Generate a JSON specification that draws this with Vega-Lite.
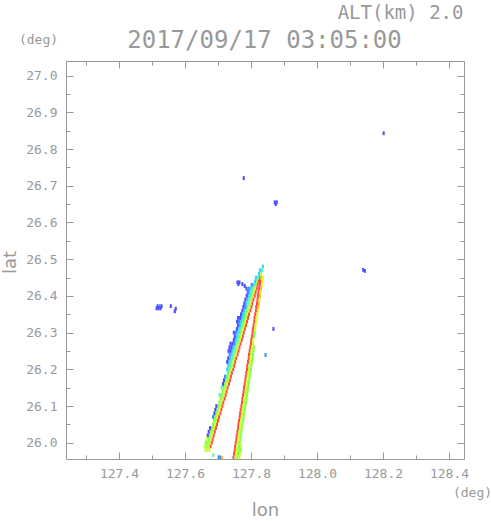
{
"$schema": "https://vega.github.io/schema/vega-lite/v6.json",
"width": 398, "height": 398,
"autosize": "none",
"padding": {"left": 66, "top": 61, "right": 27, "bottom": 62},
"background": "white",
"config": {
 "view": {"stroke": "#999", "strokeWidth": 1},
 "axis": {"domain": false, "grid": false, "tickColor": "#999", "tickWidth": 1, "labelColor": "#999", "titleColor": "#999", "labelFont": "DejaVu Sans Mono", "labelFontSize": 13, "titleFontWeight": "normal"}
},
"data": {"values": [
{"lon":127.674,"lat":25.98,"z":6},{"lon":127.668,"lat":25.98,"z":6},{"lon":127.662,"lat":25.98,"z":6},
{"lon":127.677,"lat":25.99,"z":8},{"lon":127.671,"lat":25.99,"z":6},{"lon":127.665,"lat":25.99,"z":5},{"lon":127.659,"lat":25.99,"z":6},
{"lon":127.681,"lat":26.00,"z":8},{"lon":127.675,"lat":26.00,"z":6},{"lon":127.669,"lat":26.00,"z":5},{"lon":127.663,"lat":26.00,"z":5},
{"lon":127.684,"lat":26.01,"z":8},{"lon":127.678,"lat":26.01,"z":6},{"lon":127.672,"lat":26.01,"z":5},{"lon":127.666,"lat":26.01,"z":6},
{"lon":127.687,"lat":26.02,"z":8},{"lon":127.681,"lat":26.02,"z":6},{"lon":127.675,"lat":26.02,"z":5},{"lon":127.669,"lat":26.02,"z":1},
{"lon":127.690,"lat":26.03,"z":8},{"lon":127.684,"lat":26.03,"z":6},{"lon":127.678,"lat":26.03,"z":5},{"lon":127.672,"lat":26.03,"z":1},
{"lon":127.694,"lat":26.04,"z":8},{"lon":127.688,"lat":26.04,"z":6},{"lon":127.682,"lat":26.04,"z":5},{"lon":127.676,"lat":26.04,"z":1},
{"lon":127.697,"lat":26.05,"z":8},{"lon":127.691,"lat":26.05,"z":6},{"lon":127.685,"lat":26.05,"z":5},
{"lon":127.700,"lat":26.06,"z":8},{"lon":127.694,"lat":26.06,"z":6},{"lon":127.688,"lat":26.06,"z":5},
{"lon":127.703,"lat":26.07,"z":8},{"lon":127.697,"lat":26.07,"z":6},{"lon":127.691,"lat":26.07,"z":5},{"lon":127.685,"lat":26.07,"z":2},
{"lon":127.707,"lat":26.08,"z":8},{"lon":127.701,"lat":26.08,"z":6},{"lon":127.695,"lat":26.08,"z":5},{"lon":127.689,"lat":26.08,"z":1},
{"lon":127.710,"lat":26.09,"z":8},{"lon":127.704,"lat":26.09,"z":6},{"lon":127.698,"lat":26.09,"z":5},{"lon":127.692,"lat":26.09,"z":1},
{"lon":127.713,"lat":26.10,"z":8},{"lon":127.707,"lat":26.10,"z":6},{"lon":127.701,"lat":26.10,"z":5},{"lon":127.695,"lat":26.10,"z":1},
{"lon":127.716,"lat":26.11,"z":8},{"lon":127.710,"lat":26.11,"z":6},{"lon":127.704,"lat":26.11,"z":5},
{"lon":127.720,"lat":26.12,"z":8},{"lon":127.714,"lat":26.12,"z":6},{"lon":127.708,"lat":26.12,"z":5},
{"lon":127.723,"lat":26.13,"z":8},{"lon":127.717,"lat":26.13,"z":6},{"lon":127.711,"lat":26.13,"z":5},{"lon":127.705,"lat":26.13,"z":4},
{"lon":127.726,"lat":26.14,"z":8},{"lon":127.720,"lat":26.14,"z":6},{"lon":127.714,"lat":26.14,"z":5},
{"lon":127.729,"lat":26.15,"z":8},{"lon":127.723,"lat":26.15,"z":6},{"lon":127.717,"lat":26.15,"z":5},{"lon":127.711,"lat":26.15,"z":4},
{"lon":127.733,"lat":26.16,"z":8},{"lon":127.727,"lat":26.16,"z":6},{"lon":127.721,"lat":26.16,"z":5},{"lon":127.715,"lat":26.16,"z":1},
{"lon":127.736,"lat":26.17,"z":8},{"lon":127.730,"lat":26.17,"z":6},{"lon":127.724,"lat":26.17,"z":5},{"lon":127.718,"lat":26.17,"z":1},
{"lon":127.739,"lat":26.18,"z":8},{"lon":127.733,"lat":26.18,"z":6},{"lon":127.727,"lat":26.18,"z":4},{"lon":127.721,"lat":26.18,"z":2},
{"lon":127.742,"lat":26.19,"z":8},{"lon":127.736,"lat":26.19,"z":6},{"lon":127.730,"lat":26.19,"z":4},
{"lon":127.746,"lat":26.20,"z":8},{"lon":127.740,"lat":26.20,"z":6},{"lon":127.734,"lat":26.20,"z":4},{"lon":127.728,"lat":26.20,"z":3},
{"lon":127.749,"lat":26.21,"z":8},{"lon":127.743,"lat":26.21,"z":6},{"lon":127.737,"lat":26.21,"z":4},{"lon":127.731,"lat":26.21,"z":3},
{"lon":127.752,"lat":26.22,"z":8},{"lon":127.746,"lat":26.22,"z":6},{"lon":127.740,"lat":26.22,"z":4},{"lon":127.734,"lat":26.22,"z":3},{"lon":127.728,"lat":26.22,"z":1},
{"lon":127.755,"lat":26.23,"z":8},{"lon":127.749,"lat":26.23,"z":6},{"lon":127.743,"lat":26.23,"z":4},{"lon":127.737,"lat":26.23,"z":3},{"lon":127.731,"lat":26.23,"z":1},
{"lon":127.759,"lat":26.24,"z":8},{"lon":127.753,"lat":26.24,"z":6},{"lon":127.747,"lat":26.24,"z":4},{"lon":127.741,"lat":26.24,"z":3},{"lon":127.735,"lat":26.24,"z":2},
{"lon":127.762,"lat":26.25,"z":8},{"lon":127.756,"lat":26.25,"z":6},{"lon":127.750,"lat":26.25,"z":4},{"lon":127.744,"lat":26.25,"z":3},{"lon":127.738,"lat":26.25,"z":1},{"lon":127.732,"lat":26.25,"z":1},
{"lon":127.765,"lat":26.26,"z":8},{"lon":127.759,"lat":26.26,"z":6},{"lon":127.753,"lat":26.26,"z":4},{"lon":127.747,"lat":26.26,"z":3},{"lon":127.741,"lat":26.26,"z":1},{"lon":127.735,"lat":26.26,"z":1},
{"lon":127.768,"lat":26.27,"z":8},{"lon":127.762,"lat":26.27,"z":6},{"lon":127.756,"lat":26.27,"z":4},{"lon":127.750,"lat":26.27,"z":2},{"lon":127.744,"lat":26.27,"z":1},{"lon":127.738,"lat":26.27,"z":1},
{"lon":127.772,"lat":26.28,"z":8},{"lon":127.766,"lat":26.28,"z":6},{"lon":127.760,"lat":26.28,"z":4},{"lon":127.754,"lat":26.28,"z":3},{"lon":127.748,"lat":26.28,"z":1},
{"lon":127.775,"lat":26.29,"z":8},{"lon":127.769,"lat":26.29,"z":6},{"lon":127.763,"lat":26.29,"z":4},{"lon":127.757,"lat":26.29,"z":3},{"lon":127.751,"lat":26.29,"z":1},
{"lon":127.778,"lat":26.30,"z":8},{"lon":127.772,"lat":26.30,"z":6},{"lon":127.766,"lat":26.30,"z":4},{"lon":127.760,"lat":26.30,"z":3},{"lon":127.754,"lat":26.30,"z":2},{"lon":127.748,"lat":26.30,"z":1},
{"lon":127.781,"lat":26.31,"z":8},{"lon":127.775,"lat":26.31,"z":6},{"lon":127.769,"lat":26.31,"z":4},{"lon":127.763,"lat":26.31,"z":3},{"lon":127.757,"lat":26.31,"z":1},
{"lon":127.785,"lat":26.32,"z":8},{"lon":127.779,"lat":26.32,"z":6},{"lon":127.773,"lat":26.32,"z":4},{"lon":127.767,"lat":26.32,"z":3},{"lon":127.761,"lat":26.32,"z":1},
{"lon":127.788,"lat":26.33,"z":8},{"lon":127.782,"lat":26.33,"z":6},{"lon":127.776,"lat":26.33,"z":4},{"lon":127.770,"lat":26.33,"z":3},{"lon":127.764,"lat":26.33,"z":2},{"lon":127.758,"lat":26.33,"z":1},
{"lon":127.791,"lat":26.34,"z":8},{"lon":127.785,"lat":26.34,"z":6},{"lon":127.779,"lat":26.34,"z":4},{"lon":127.773,"lat":26.34,"z":3},{"lon":127.767,"lat":26.34,"z":1},{"lon":127.761,"lat":26.34,"z":1},
{"lon":127.794,"lat":26.35,"z":8},{"lon":127.788,"lat":26.35,"z":6},{"lon":127.782,"lat":26.35,"z":4},{"lon":127.776,"lat":26.35,"z":3},{"lon":127.770,"lat":26.35,"z":1},
{"lon":127.798,"lat":26.36,"z":8},{"lon":127.792,"lat":26.36,"z":6},{"lon":127.786,"lat":26.36,"z":4},{"lon":127.780,"lat":26.36,"z":3},{"lon":127.774,"lat":26.36,"z":1},
{"lon":127.801,"lat":26.37,"z":8},{"lon":127.795,"lat":26.37,"z":6},{"lon":127.789,"lat":26.37,"z":4},{"lon":127.783,"lat":26.37,"z":2},{"lon":127.777,"lat":26.37,"z":1},
{"lon":127.804,"lat":26.38,"z":8},{"lon":127.798,"lat":26.38,"z":6},{"lon":127.792,"lat":26.38,"z":4},{"lon":127.786,"lat":26.38,"z":3},{"lon":127.780,"lat":26.38,"z":1},
{"lon":127.807,"lat":26.39,"z":8},{"lon":127.801,"lat":26.39,"z":6},{"lon":127.795,"lat":26.39,"z":4},{"lon":127.789,"lat":26.39,"z":3},{"lon":127.783,"lat":26.39,"z":1},
{"lon":127.811,"lat":26.40,"z":8},{"lon":127.805,"lat":26.40,"z":6},{"lon":127.799,"lat":26.40,"z":4},{"lon":127.793,"lat":26.40,"z":3},{"lon":127.787,"lat":26.40,"z":1},
{"lon":127.814,"lat":26.41,"z":8},{"lon":127.808,"lat":26.41,"z":6},{"lon":127.802,"lat":26.41,"z":4},{"lon":127.796,"lat":26.41,"z":3},{"lon":127.790,"lat":26.41,"z":1},
{"lon":127.817,"lat":26.42,"z":8},{"lon":127.811,"lat":26.42,"z":6},{"lon":127.805,"lat":26.42,"z":4},{"lon":127.799,"lat":26.42,"z":3},{"lon":127.793,"lat":26.42,"z":2},
{"lon":127.820,"lat":26.43,"z":8},{"lon":127.814,"lat":26.43,"z":5},{"lon":127.808,"lat":26.43,"z":3},{"lon":127.802,"lat":26.43,"z":2},
{"lon":127.824,"lat":26.44,"z":8},{"lon":127.818,"lat":26.44,"z":5},{"lon":127.812,"lat":26.44,"z":3},
{"lon":127.827,"lat":26.45,"z":8},{"lon":127.821,"lat":26.45,"z":4},{"lon":127.815,"lat":26.45,"z":3},
{"lon":127.830,"lat":26.46,"z":6},{"lon":127.824,"lat":26.46,"z":3},
{"lon":127.833,"lat":26.47,"z":4},{"lon":127.827,"lat":26.47,"z":3},
{"lon":127.836,"lat":26.48,"z":3},
{"lon":127.747,"lat":25.96,"z":8},{"lon":127.753,"lat":25.96,"z":6},{"lon":127.759,"lat":25.96,"z":5},{"lon":127.765,"lat":25.96,"z":6},
{"lon":127.749,"lat":25.97,"z":8},{"lon":127.755,"lat":25.97,"z":6},{"lon":127.761,"lat":25.97,"z":5},{"lon":127.767,"lat":25.97,"z":6},
{"lon":127.751,"lat":25.98,"z":8},{"lon":127.757,"lat":25.98,"z":6},{"lon":127.763,"lat":25.98,"z":5},{"lon":127.769,"lat":25.98,"z":5},
{"lon":127.752,"lat":25.99,"z":8},{"lon":127.758,"lat":25.99,"z":6},{"lon":127.764,"lat":25.99,"z":5},{"lon":127.770,"lat":25.99,"z":6},
{"lon":127.754,"lat":26.00,"z":8},{"lon":127.760,"lat":26.00,"z":6},{"lon":127.766,"lat":26.00,"z":5},
{"lon":127.756,"lat":26.01,"z":8},{"lon":127.762,"lat":26.01,"z":6},{"lon":127.768,"lat":26.01,"z":5},
{"lon":127.757,"lat":26.02,"z":8},{"lon":127.763,"lat":26.02,"z":6},{"lon":127.769,"lat":26.02,"z":5},
{"lon":127.759,"lat":26.03,"z":8},{"lon":127.765,"lat":26.03,"z":6},{"lon":127.771,"lat":26.03,"z":5},
{"lon":127.761,"lat":26.04,"z":8},{"lon":127.767,"lat":26.04,"z":6},{"lon":127.773,"lat":26.04,"z":5},
{"lon":127.762,"lat":26.05,"z":8},{"lon":127.768,"lat":26.05,"z":6},{"lon":127.774,"lat":26.05,"z":5},
{"lon":127.764,"lat":26.06,"z":8},{"lon":127.770,"lat":26.06,"z":6},{"lon":127.776,"lat":26.06,"z":5},
{"lon":127.766,"lat":26.07,"z":8},{"lon":127.772,"lat":26.07,"z":6},{"lon":127.778,"lat":26.07,"z":5},
{"lon":127.767,"lat":26.08,"z":8},{"lon":127.773,"lat":26.08,"z":6},{"lon":127.779,"lat":26.08,"z":5},
{"lon":127.769,"lat":26.09,"z":8},{"lon":127.775,"lat":26.09,"z":6},{"lon":127.781,"lat":26.09,"z":5},
{"lon":127.771,"lat":26.10,"z":8},{"lon":127.777,"lat":26.10,"z":6},{"lon":127.783,"lat":26.10,"z":5},
{"lon":127.773,"lat":26.11,"z":8},{"lon":127.779,"lat":26.11,"z":6},{"lon":127.785,"lat":26.11,"z":5},
{"lon":127.774,"lat":26.12,"z":8},{"lon":127.780,"lat":26.12,"z":6},{"lon":127.786,"lat":26.12,"z":5},
{"lon":127.776,"lat":26.13,"z":8},{"lon":127.782,"lat":26.13,"z":6},{"lon":127.788,"lat":26.13,"z":5},
{"lon":127.778,"lat":26.14,"z":8},{"lon":127.784,"lat":26.14,"z":6},{"lon":127.790,"lat":26.14,"z":5},
{"lon":127.779,"lat":26.15,"z":8},{"lon":127.785,"lat":26.15,"z":6},{"lon":127.791,"lat":26.15,"z":5},
{"lon":127.781,"lat":26.16,"z":8},{"lon":127.787,"lat":26.16,"z":6},{"lon":127.793,"lat":26.16,"z":5},
{"lon":127.783,"lat":26.17,"z":8},{"lon":127.789,"lat":26.17,"z":6},{"lon":127.795,"lat":26.17,"z":5},
{"lon":127.784,"lat":26.18,"z":8},{"lon":127.790,"lat":26.18,"z":6},{"lon":127.796,"lat":26.18,"z":5},
{"lon":127.786,"lat":26.19,"z":8},{"lon":127.792,"lat":26.19,"z":6},{"lon":127.798,"lat":26.19,"z":5},
{"lon":127.788,"lat":26.20,"z":8},{"lon":127.794,"lat":26.20,"z":6},{"lon":127.800,"lat":26.20,"z":5},
{"lon":127.789,"lat":26.21,"z":8},{"lon":127.795,"lat":26.21,"z":6},{"lon":127.801,"lat":26.21,"z":5},
{"lon":127.791,"lat":26.22,"z":8},{"lon":127.797,"lat":26.22,"z":6},{"lon":127.803,"lat":26.22,"z":5},
{"lon":127.793,"lat":26.23,"z":8},{"lon":127.799,"lat":26.23,"z":6},{"lon":127.805,"lat":26.23,"z":5},
{"lon":127.794,"lat":26.24,"z":8},{"lon":127.800,"lat":26.24,"z":6},{"lon":127.806,"lat":26.24,"z":5},
{"lon":127.796,"lat":26.25,"z":8},{"lon":127.802,"lat":26.25,"z":6},{"lon":127.808,"lat":26.25,"z":5},
{"lon":127.798,"lat":26.26,"z":8},{"lon":127.804,"lat":26.26,"z":6},{"lon":127.810,"lat":26.26,"z":5},
{"lon":127.800,"lat":26.27,"z":8},{"lon":127.806,"lat":26.27,"z":6},
{"lon":127.801,"lat":26.28,"z":8},{"lon":127.807,"lat":26.28,"z":6},
{"lon":127.803,"lat":26.29,"z":8},{"lon":127.809,"lat":26.29,"z":5},
{"lon":127.805,"lat":26.30,"z":8},{"lon":127.811,"lat":26.30,"z":5},
{"lon":127.806,"lat":26.31,"z":8},{"lon":127.812,"lat":26.31,"z":6},
{"lon":127.808,"lat":26.32,"z":8},{"lon":127.814,"lat":26.32,"z":6},
{"lon":127.810,"lat":26.33,"z":8},{"lon":127.816,"lat":26.33,"z":6},
{"lon":127.811,"lat":26.34,"z":8},{"lon":127.817,"lat":26.34,"z":6},
{"lon":127.813,"lat":26.35,"z":8},{"lon":127.819,"lat":26.35,"z":6},
{"lon":127.815,"lat":26.36,"z":8},{"lon":127.821,"lat":26.36,"z":6},
{"lon":127.816,"lat":26.37,"z":8},{"lon":127.822,"lat":26.37,"z":7},
{"lon":127.818,"lat":26.38,"z":8},{"lon":127.824,"lat":26.38,"z":7},
{"lon":127.820,"lat":26.39,"z":8},{"lon":127.826,"lat":26.39,"z":6},
{"lon":127.821,"lat":26.40,"z":8},{"lon":127.827,"lat":26.40,"z":7},
{"lon":127.823,"lat":26.41,"z":8},{"lon":127.829,"lat":26.41,"z":6},
{"lon":127.825,"lat":26.42,"z":8},{"lon":127.831,"lat":26.42,"z":7},
{"lon":127.827,"lat":26.43,"z":8},{"lon":127.833,"lat":26.43,"z":6},
{"lon":127.828,"lat":26.44,"z":8},{"lon":127.834,"lat":26.44,"z":6},
{"lon":127.830,"lat":26.45,"z":7},{"lon":127.836,"lat":26.45,"z":6},
{"lon":128.202,"lat":26.843,"z":1},
{"lon":127.778,"lat":26.721,"z":1},
{"lon":127.872,"lat":26.655,"z":1},{"lon":127.878,"lat":26.655,"z":1},{"lon":127.875,"lat":26.650,"z":1},
{"lon":128.140,"lat":26.471,"z":1},{"lon":128.145,"lat":26.468,"z":1},
{"lon":127.868,"lat":26.310,"z":1},
{"lon":127.844,"lat":26.239,"z":2},
{"lon":127.517,"lat":26.372,"z":1},{"lon":127.523,"lat":26.372,"z":2},{"lon":127.529,"lat":26.372,"z":1},{"lon":127.514,"lat":26.366,"z":1},{"lon":127.520,"lat":26.366,"z":1},{"lon":127.526,"lat":26.366,"z":1},
{"lon":127.557,"lat":26.372,"z":1},{"lon":127.572,"lat":26.365,"z":1},{"lon":127.569,"lat":26.358,"z":1},
{"lon":127.759,"lat":26.437,"z":1},{"lon":127.765,"lat":26.437,"z":1},{"lon":127.762,"lat":26.432,"z":1},{"lon":127.774,"lat":26.432,"z":1},{"lon":127.781,"lat":26.427,"z":1},{"lon":127.786,"lat":26.420,"z":1},{"lon":127.791,"lat":26.413,"z":2},
{"lon":127.686,"lat":25.966,"z":4},{"lon":127.702,"lat":25.960,"z":2},{"lon":127.707,"lat":25.960,"z":2},{"lon":127.712,"lat":25.959,"z":7}
]},
"encoding": {
 "x": {"field": "lon", "type": "quantitative", "scale": {"domain": [127.2394, 128.4455], "nice": false, "zero": false}},
 "y": {"field": "lat", "type": "quantitative", "scale": {"domain": [25.9556, 27.04], "nice": false, "zero": false}}
},
"layer": [
 {
  "mark": {"type": "point", "shape": "M-0.55,-1H0.55V1H-0.55Z", "size": 14.4, "filled": true, "opacity": 1, "strokeWidth": 0, "clip": true},
  "encoding": {
   "x": {"field": "lon", "type": "quantitative", "axis": {"orient": "bottom", "values": [127.4, 127.6, 127.8, 128.0, 128.2, 128.4], "format": ".1f", "tickSize": -7, "labelPadding": 15, "title": "lon", "titleFont": "DejaVu Sans", "titleFontSize": 18, "titleX": 199, "titleY": 56, "titleAlign": "center", "titleBaseline": "alphabetic"}},
   "y": {"field": "lat", "type": "quantitative", "axis": {"orient": "left", "values": [26.0, 26.1, 26.2, 26.3, 26.4, 26.5, 26.6, 26.7, 26.8, 26.9, 27.0], "format": ".1f", "tickSize": -7, "labelPadding": 16, "title": "lat", "titleFont": "DejaVu Sans", "titleFontSize": 18, "titleAngle": 270, "titleX": -56, "titleY": 201, "titleAlign": "center", "titleBaseline": "middle"}},
   "color": {"field": "z", "type": "ordinal", "scale": {"domain": [1, 2, 3, 4, 5, 6, 7, 8], "range": ["#4b4bff", "#3b8cff", "#33d6ff", "#55ff88", "#88ff44", "#ccff33", "#ffb833", "#ff4a40"]}, "legend": null}
  }
 },
 {
  "transform": [{"filter": "datum.lat > 26.8"}],
  "mark": {"type": "point", "opacity": 0},
  "encoding": {
   "x": {"field": "lon", "type": "quantitative", "axis": {"orient": "bottom", "values": [127.3, 127.5, 127.7, 127.9, 128.1, 128.3], "labels": false, "tickSize": -4, "title": "(deg)", "titleFont": "DejaVu Sans Mono", "titleFontSize": 13, "titleX": 406, "titleY": 33, "titleAlign": "center", "titleBaseline": "middle"}},
   "y": {"field": "lat", "type": "quantitative", "axis": {"orient": "left", "values": [26.05, 26.15, 26.25, 26.35, 26.45, 26.55, 26.65, 26.75, 26.85, 26.95], "labels": false, "tickSize": -4, "title": "(deg)", "titleFont": "DejaVu Sans Mono", "titleFontSize": 13, "titleAngle": 0, "titleX": -28, "titleY": -22, "titleAlign": "center", "titleBaseline": "middle"}}
  }
 },
 {
  "transform": [{"filter": "datum.lat > 26.8"}],
  "mark": {"type": "point", "opacity": 0},
  "encoding": {
   "x": {"field": "lon", "type": "quantitative", "axis": {"orient": "top", "values": [127.4, 127.6, 127.8, 128.0, 128.2, 128.4], "labels": false, "tickSize": -7, "title": "2017/09/17 03:05:00", "titleFont": "DejaVu Sans Mono", "titleFontSize": 24, "titleX": 198, "titleY": -21, "titleAlign": "center", "titleBaseline": "middle"}},
   "y": {"field": "lat", "type": "quantitative", "axis": {"orient": "right", "values": [26.0, 26.1, 26.2, 26.3, 26.4, 26.5, 26.6, 26.7, 26.8, 26.9, 27.0], "labels": false, "tickSize": -7, "title": null}}
  }
 },
 {
  "transform": [{"filter": "datum.lat > 26.8"}],
  "mark": {"type": "point", "opacity": 0},
  "encoding": {
   "x": {"field": "lon", "type": "quantitative", "axis": {"orient": "top", "values": [127.3, 127.5, 127.7, 127.9, 128.1, 128.3], "labels": false, "tickSize": -4, "title": "ALT(km) 2.0", "titleFont": "DejaVu Sans Mono", "titleFontSize": 19, "titleX": 397, "titleY": -49, "titleAlign": "right", "titleBaseline": "middle"}},
   "y": {"field": "lat", "type": "quantitative", "axis": {"orient": "right", "values": [26.05, 26.15, 26.25, 26.35, 26.45, 26.55, 26.65, 26.75, 26.85, 26.95], "labels": false, "tickSize": -4, "title": null}}
  }
 }
],
"resolve": {"axis": {"x": "independent", "y": "independent"}}
}
